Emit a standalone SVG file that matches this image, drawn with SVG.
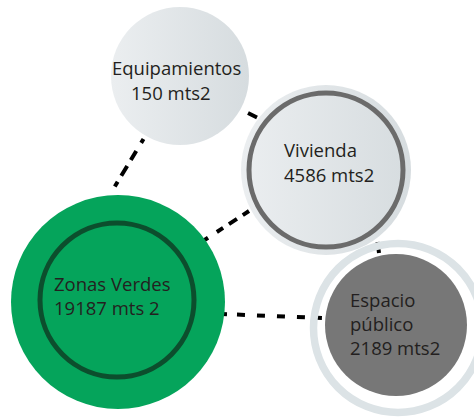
<svg xmlns="http://www.w3.org/2000/svg" width="474" height="417" viewBox="0 0 474 417">
  <defs>
    <linearGradient id="lightGrad" x1="0" y1="0" x2="1" y2="0">
      <stop offset="0" stop-color="#EBEEF0"/>
      <stop offset="1" stop-color="#D6DCDF"/>
    </linearGradient>
    <style>
      .lbl { font-family: "Open Sans", "Liberation Sans", sans-serif; font-size: 18.5px; fill: #231F20; }
      .conn { stroke: #000; stroke-width: 4; fill: none; }
    </style>
  </defs>
  <rect width="474" height="417" fill="#FFFFFF"/>

  <g id="connectors">
    <line class="conn" x1="143.5" y1="139" x2="114.5" y2="187" stroke-dasharray="4.5 9.5 10.5 7 11.5 7 5.5"/>
    <line class="conn" x1="248" y1="113" x2="257" y2="117.5"/>
    <line class="conn" x1="203" y1="241" x2="249" y2="211" stroke-dasharray="6 10.5 7.5 7 9.5 7 7.5"/>
    <line class="conn" x1="377.5" y1="242" x2="379" y2="253"/>
    <line class="conn" x1="222" y1="314" x2="322" y2="318" stroke-dasharray="5 10 8 12 8 12 8 12 8 12 5"/>
  </g>

  <g id="equipamientos">
    <circle cx="180" cy="76" r="69" fill="url(#lightGrad)"/>
    <text class="lbl" x="112" y="75">Equipamientos</text>
    <text class="lbl" x="131" y="100">150 mts2</text>
  </g>

  <g id="vivienda">
    <circle cx="326" cy="170" r="85" fill="url(#lightGrad)"/>
    <circle cx="326" cy="170" r="77" fill="none" stroke="#6B6B6B" stroke-width="5"/>
    <text class="lbl" x="284" y="157">Vivienda</text>
    <text class="lbl" x="284" y="182">4586 mts2</text>
  </g>

  <g id="zonas-verdes">
    <circle cx="118" cy="302" r="107" fill="#05A45B"/>
    <circle cx="117" cy="300" r="77" fill="none" stroke="#0C4E2D" stroke-width="5"/>
    <text class="lbl" x="54" y="291">Zonas Verdes</text>
    <text class="lbl" x="54" y="315">19187 mts 2</text>
  </g>

  <g id="espacio-publico">
    <circle cx="398" cy="328" r="84.5" fill="none" stroke="#DCE3E6" stroke-width="7.5"/>
    <circle cx="396" cy="325" r="71" fill="#777777"/>
    <text class="lbl" x="350" y="307">Espacio</text>
    <text class="lbl" x="350" y="331">público</text>
    <text class="lbl" x="350" y="355">2189 mts2</text>
  </g>
</svg>
